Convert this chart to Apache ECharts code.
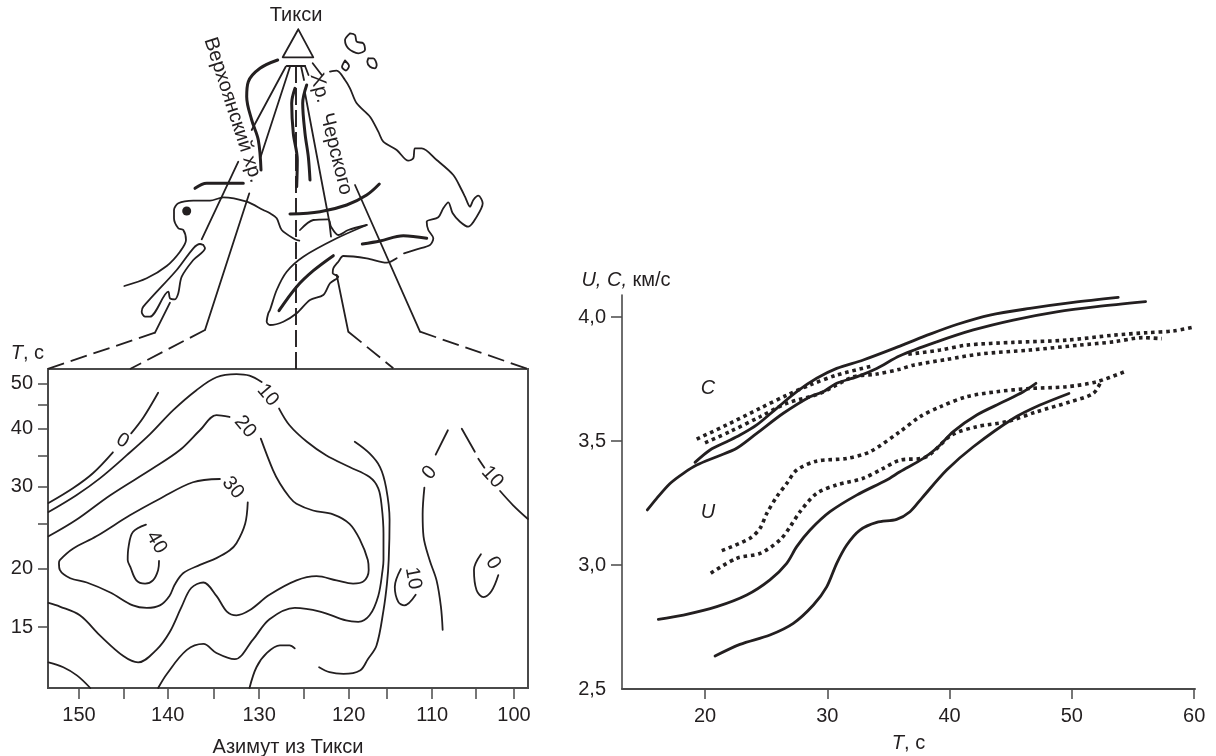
<!DOCTYPE html>
<html><head><meta charset="utf-8">
<style>html,body{margin:0;padding:0;background:#fff}#c{width:1216px;height:756px}</style>
<script src="https://cdn.jsdelivr.net/npm/echarts@6/dist/echarts.min.js"></script>
</head><body><div id="c"></div>
<script>
// ---------- Right panel: T (s), velocity (km/s) ----------
const cSolid1=[[19.18,3.414],[20.41,3.464],[21.77,3.497],[22.86,3.524],[24.23,3.565],[25.86,3.632],[27.5,3.699],[29.13,3.753],[30.77,3.793],[32.94,3.827],[35.94,3.883],[38.4,3.931],[40.58,3.97],[43.3,4.008],[46.57,4.035],[50.11,4.059],[53.79,4.079]];
const cSolid2=[[15.28,3.222],[16.05,3.269],[17.14,3.329],[18.23,3.37],[19.32,3.403],[20.96,3.437],[22.59,3.471],[24.23,3.531],[26.4,3.612],[28.59,3.679],[29.67,3.699],[30.77,3.733],[32.4,3.759],[34.04,3.793],[35.94,3.844],[38.95,3.9],[41.94,3.948],[45.21,3.988],[48.76,4.021],[52.03,4.042],[56.03,4.062]];
const cDot1a=[[19.32,3.508],[21.77,3.565],[24.5,3.632],[26.68,3.685],[28.59,3.726],[30.77,3.766],[33.63,3.802]];
const cDot1b=[[36.62,3.85],[39.22,3.867],[41.4,3.887],[45.21,3.898],[49.57,3.907],[53.39,3.927],[56.12,3.937],[58.29,3.944],[60.07,3.961]];
const cDot2=[[20,3.493],[22.04,3.538],[24.5,3.598],[26.68,3.652],[29.4,3.692],[32.13,3.759],[34.04,3.77],[35.94,3.79],[37.03,3.806],[39.76,3.829],[42.49,3.851],[46.57,3.867],[50.66,3.887],[53.39,3.9],[55.84,3.917],[57.34,3.913]];
const uSolid1=[[16.18,2.781],[18.23,2.798],[20.96,2.832],[23.41,2.879],[25.31,2.94],[26.68,3.007],[27.5,3.074],[28.59,3.141],[30.22,3.215],[32.4,3.282],[34.86,3.343],[35.94,3.376],[37.85,3.43],[39.08,3.477],[40.3,3.538],[42.22,3.605],[44.39,3.658],[46.03,3.699],[47.06,3.733]];
const uSolid2=[[20.82,2.633],[22.86,2.68],[25.31,2.718],[27.22,2.765],[28.86,2.839],[29.95,2.912],[30.77,3.007],[31.59,3.081],[32.67,3.141],[34.04,3.172],[35.67,3.184],[36.76,3.215],[37.72,3.269],[39.76,3.383],[41.94,3.477],[45.21,3.591],[47.39,3.645],[49.76,3.692]];
const uDot1=[[21.37,3.058],[23.68,3.108],[24.5,3.148],[25.05,3.208],[25.86,3.275],[26.68,3.329],[27.5,3.383],[29.13,3.419],[31.59,3.43],[33.49,3.457],[35.94,3.538],[37.58,3.598],[39.22,3.638],[41.4,3.679],[43.85,3.699],[46.57,3.712],[49.57,3.719],[52.03,3.739],[54.42,3.782]];
const uDot2=[[20.47,2.967],[22.59,3.027],[24.5,3.047],[26.13,3.101],[26.95,3.154],[27.77,3.215],[29.13,3.289],[30.77,3.323],[32.94,3.35],[34.58,3.39],[35.94,3.423],[37.99,3.434],[40.17,3.524],[42.22,3.558],[44.67,3.578],[47.12,3.618],[49.84,3.658],[51.75,3.692],[52.44,3.746]];
const velocityLabels=[{name:'C',value:[20.25,3.714]},{name:'U',value:[20.25,3.214]}];
const periodTicks=[20,30,40,50,60];
const velocityTicks=[3,3.5,4];
const velocityLabelsAt=[2.5,3,3.5,4];

// ---------- Left panel: azimuth (deg), T (s) contours ----------
const iso0Left=[[153.5,27.7],[150.7,29.8],[148.4,32.1],[146.1,35.6],null,[144.0,39.1],[142.6,42.3],[140.9,47.8]];
const iso10=[[153.5,26.5],[150.3,28.8],[147.6,31.3],[144.5,35.1],[141.8,39.0],[139.2,43.8],[136.5,48.4],[134.2,51.6],[131.9,52.4],[130.4,52.0],[129.0,50.4],null,[127.0,44.2],[125.8,40.7],[123.8,37.5],[121.6,35.1],[118.9,33.1],[116.6,31.5],[115.6,29.8],[115.2,27.2],[115.0,23.8],[115.0,20.9],[115.1,19.9],[115.6,17.5],[116.6,15.9],[117.9,15.4],[119.3,15.5],[122.3,16.2],[125.2,16.5],[128.1,15.6],[130.0,14.1],[132.1,12.8],[134.2,13.2],[135.7,13.8],[137.6,13.4],[139.9,11.9],[140.9,11.1]];
const iso20=[[153.5,23.5],[150.3,25.5],[146.4,28.8],[141.5,32.9],[138.4,36.0],[136.1,39.7],[134.2,42.8],[132.7,42.4],null,[129.1,38.1],[127.7,32.6],[126.9,30.5],[125.8,28.5],[125.0,27.6],[123.1,26.7],[120.8,26.2],[118.9,25.0],[117.7,23.1],[116.8,20.9],[116.7,19.9],[117.3,18.8],[118.5,18.6],[120.4,18.9],[122.7,19.3],[125.0,18.9],[128.1,17.6],[130.4,16.3],[131.9,15.9],[133.0,16.2],[134.2,17.5],[135.7,18.7],[137.1,18.2],[138.2,16.6],[139.6,14.6],[141.1,13.4],[143.2,12.6],[144.9,13.0],[147.6,14.4],[149.9,15.9],[152.2,16.6],[153.5,16.9]];
const iso30=[[133.8,31.2],[136.9,30.7],[140.7,28.3],[144.1,26.1],[148.0,23.5],[150.7,22.1],[152.2,20.9],[152.3,20.6],[152.2,19.9],[151.0,19.1],[149.1,18.7],[146.4,17.8],[143.8,16.7],[142.2,16.5],[140.7,16.7],[139.6,17.5],[139.0,18.5],[138.0,19.6],[136.1,20.4],[134.2,21.1],[132.7,21.9],[131.9,22.7],[130.9,25.0],[130.6,27.8]];
const iso40=[[142.3,24.9],[143.8,24.0],[144.3,22.3],[144.4,20.9],[144.1,20.2],[143.4,18.9],[142.4,18.6],[141.5,18.9],[140.9,19.9],[140.8,20.8]];
const isoCorner=[[153.5,12.6],[151.8,12.3],[150.2,11.8],[148.7,11.1]];
const isoBottom=[[130.4,11.1],[129.6,12.3],[128.4,13.2],[126.9,13.7],[125.8,13.7],[125.2,13.5]];
const isoOuter=[[118.3,37.5],[116.6,35.4],[115.4,33.1],[114.7,29.9],[114.3,25.5],[114.4,20.9],[114.6,18.6],[115.0,16.3],[115.8,13.7],[116.8,12.8],[117.7,12.1],[119.6,11.9],[121.2,12.0],[122.4,12.3]];
const iso0Right=[[107.6,39.7],[109.0,35.2],null,[110.3,29.9],[110.5,26.2],[110.4,23.5],[109.7,20.9],[108.9,18.9],[108.4,16.6],[108.2,14.8]];
const isoM10=[[106.0,40.0],[104.5,35.7],null,[104.1,34.5],[103.4,33.0],null,[101.6,29.4],[100.1,27.4],[98.4,25.6]];
const iso10Small=[[113.0,20.0],[113.7,18.3],[113.3,17.0],[112.6,16.7],[111.3,17.6]];
const iso0Small=[[103.8,21.5],[104.6,19.9],[104.3,18.0],[103.5,17.4],[102.6,17.9],[101.8,19.4]];
const isoLabels=[
 {name:'0',value:[145.0,37.7],rot:-30},{name:'10',value:[128.3,47.2],rot:-50},{name:'20',value:[130.9,40.4],rot:-50},
 {name:'30',value:[132.3,29.9],rot:-50},{name:'40',value:[141.1,22.8],rot:-60},{name:'0',value:[109.7,32.2],rot:50},
 {name:'10',value:[102.5,31.5],rot:-48},{name:'10',value:[111.6,19.1],rot:-80},{name:'0',value:[102.4,20.6],rot:-60}];
const azimuthMajorAt=[150,139.8,129.3,119,109.4,100];
const azimuthMinorAt=[144.8,134.5,124.2,114.6,104.4];
const azimuthNames=['150','140','130','120','110','100'];
const periodLogLabels=[15,20,30,40,50];
const periodLogTicks=[15,20,25,30,35,40,45,50];

// ---------- Top panel: schematic map, map units ----------
const triangle=[[298.3,29.3],[282.7,57.3],[313.3,57.3],[298.3,29.3]];
const rayCap=[[286.7,66],[305,66]];
const ray1a=[[285.7,66.7],[251.7,130]], ray1b=[[238.3,161.7],[201.7,239.3]], ray1c=[[170,302.7],[155,332.7]], ray1d=[[155,332.7],[47.3,369]];
const ray2a=[[290,66.7],[260.7,156.7]], ray2b=[[249.3,193.3],[205,330]], ray2c=[[205,330],[130,369]];
const rayMid=[[296,66],[296,369]];
const ray4a=[[301,66],[304,80]], ray4b=[[305,93],[323.3,190],[329.3,221.7],[331,236.7]];
const rayStub=[[305,66],[308.5,75]];
const ray5a=[[312.7,63.3],[321.7,75]], ray5b=[[355,185],[420,331.7]], ray5c=[[420,331.7],[528,369]];
const ray6a=[[336.7,275],[348.3,331.7]], ray6b=[[348.3,331.7],[393.3,368.3]];
const thick1=[[277.7,60],[260,68.3],[248.3,81.7],[246.7,96.7],[251.7,120],[258.3,140],[261,170]];
const thick2=[[295,88.3],[291.7,103.3],[293.3,133.3],[297.3,160],[296.7,186.7]];
const thick3=[[306.7,85],[302.7,103.3],[305,133.3],[308.3,156.7],[310,180]];
const thick4=[[195,188.3],[206.7,183.3],[243.3,183.3]];
const thick5=[[290,214],[320,211.7],[346.7,205],[366.7,195],[379.3,184]];
const thick6=[[362.3,244],[380,241],[403.3,235.7],[426.7,238.3]];
const thick7=[[279,310.7],[296.7,286.7],[313.3,270.7],[333.3,255.7]];
const island1=[[350,33.3],[345,40],[348.3,48.3],[358.3,53.3],[365,50],[363.3,43.3],[356.7,41.7],[355,35],[350,33.3]];
const island2=[[345,60.5],[349,66],[346,70.5],[342,67],[345,60.5]];
const island3=[[368.3,58.3],[373.3,58.3],[376.7,65],[375,68.3],[370,66.7],[367.3,61.7],[368.3,58.3]];
const coastA=[[330,71.7],[336.7,70.7],[345,80],[350,88.3],[356.7,103.3],[370,116.7],[378.3,131.7],[383.3,141.7],[396.7,150],[408.3,160.7],[413.3,158.3],[415,148.3],[421.7,148.3],[436.7,160],[453.3,175],[461.7,190],[465,196.7],[470,206.7],[473.3,200],[478.3,195.7],[482.7,203.3],[476.7,216.7],[468.3,226.7],[460,221.7],[452.7,213.3],[448.3,202.3],[443.3,208.3],[438.3,217.3],[426.7,221.7],[428.3,230],[433.3,238.3],[430,245],[416.7,249.3],[404,253.3]];
const coastB=[[396.7,258.3],[386.7,262.7],[366.7,258.3],[343.3,256],[338.3,261.7],[333.3,268.3],[332.7,273.3],[338.3,276.7],[330,283.3],[323.3,295],[310,300],[296.7,313.3],[283.3,321.7],[270,325],[266.7,321.7],[268.3,313.3],[270,310],[276.7,290],[286.7,271.7],[303.3,256.7],[336.7,238.3],[366.7,225]];
const coastC=[[366.7,225],[348.3,230],[338.3,235],[331,226.7],[328.3,219.3],[313.3,220],[300,230]];
const coastWest=[[124.3,286],[146.7,278.3],[166.7,266],[180,251.7],[186,240],[183.3,230],[178.3,228.3],[174,218.3],[174,210],[178.3,203.3],[193.3,200.7],[210,200.7],[223.3,197.3],[246.7,201.7],[263.3,210],[270,213.3],[276.7,218.3],[281.7,230],[295,239.3],[299.3,240.7]];
const lakeWest=[[203.3,245],[200,244],[193.3,248.3],[176.7,270],[143.3,306.7],[141.7,311.7],[145,316.7],[150,316.7],[168.3,291.7],[170,298.3],[175,299.3],[178.3,293.3],[181.7,276.7],[193.3,260],[205,248.3],[203.3,245]];
const cityDot=[[186.7,211]];
const mapLabels=[{name:'Тикси',value:[296,15],rot:0},{name:'Верхоянский хр.',value:[233,110],rot:-72},{name:'Хр.  Черского',value:[331,134],rot:-76}];

const INK='#231f20', AXIS='#4a4a4a', FONT='"Liberation Sans",Arial,sans-serif', FS=20;
const series=[];
function line(data,grid,width,opt){
  series.push(Object.assign({type:'line',data,xAxisIndex:grid,yAxisIndex:grid,showSymbol:false,symbol:'none',silent:true,
    clip:false,smooth:0,connectNulls:false,lineStyle:{color:INK,width,cap:'round',join:'round'}},opt||{}));
}
function labels(data,grid,style){
  series.push({type:'scatter',data:data.map(d=>({name:d.name,value:d.value,
      label:{rotate:d.rot||0}})),xAxisIndex:grid,yAxisIndex:grid,symbolSize:1,
    itemStyle:{color:'transparent',opacity:1},silent:true,clip:false,
    label:Object.assign({show:true,position:'inside',formatter:'{b}',color:INK,opacity:1,fontFamily:FONT,fontSize:FS,align:'center',verticalAlign:'middle'},style||{})});
}
// contours (grid 0)
[iso0Left,iso10,iso20,iso30,iso40,isoCorner,isoBottom,isoOuter,iso0Right,isoM10,iso10Small,iso0Small]
  .forEach(d=>line(d,0,1.8,{smooth:0.35}));
labels(isoLabels,0,{fontSize:20});
// velocity curves (grid 1)
[cSolid1,cSolid2,uSolid1,uSolid2].forEach(d=>line(d,1,2.8,{smooth:0.3}));
[cDot1a,cDot1b,cDot2,uDot1,uDot2].forEach(d=>line(d,1,3.6,{smooth:0.3,lineStyle:{color:INK,width:3.6,type:[3.6,3.8],cap:'butt'}}));
labels(velocityLabels,1,{fontStyle:'italic'});
// map (grid 2)
[triangle,rayCap,ray1a,ray1b,ray1c,ray2a,ray2b,ray4a,ray4b,rayStub,ray5a,ray5b,ray6a].forEach(d=>line(d,2,1.8));
[ray1d,ray2c,ray5c,ray6b].forEach(d=>line(d,2,1.8,{lineStyle:{color:INK,width:1.8,type:[17,7]}}));
line(rayMid,2,1.9,{lineStyle:{color:INK,width:1.9,type:[17,5]}});
[thick1,thick2,thick3,thick4,thick5,thick6,thick7].forEach(d=>line(d,2,3,{smooth:0.35}));
[island1,island2,island3,coastA,coastB,coastC,coastWest,lakeWest].forEach(d=>line(d,2,1.8,{smooth:0.3}));
series.push({type:'scatter',data:cityDot,xAxisIndex:2,yAxisIndex:2,symbolSize:9,itemStyle:{color:INK,opacity:1},silent:true});
labels(mapLabels,2,{});

const baseLabel={color:INK,fontFamily:FONT,fontSize:FS};
const axisLine={show:true,onZero:false,lineStyle:{color:AXIS,width:2}};
const tick=(vals,len)=>({show:true,length:len,customValues:vals,lineStyle:{color:AXIS,width:1.5}});
const rich={i:{fontStyle:'italic',color:INK,fontFamily:FONT,fontSize:FS},n:{color:INK,fontFamily:FONT,fontSize:FS}};

const option={animation:false,backgroundColor:'#fff',
 grid:[
  {left:48,top:369,width:480,height:319,show:true,borderColor:AXIS,borderWidth:2,backgroundColor:'transparent',outerBoundsMode:'none'},
  {left:622,top:295,width:573,height:394,outerBoundsMode:'none'},
  {left:0,top:0,width:1216,height:756,outerBoundsMode:'none'}],
 xAxis:[
  {gridIndex:0,type:'value',inverse:true,min:98.39,max:153.56,axisLine,splitLine:{show:false},
   axisTick:tick([...azimuthMajorAt,...azimuthMinorAt],11),
   axisLabel:Object.assign({},baseLabel,{margin:17,customValues:azimuthMajorAt,
     formatter:v=>azimuthNames[azimuthMajorAt.indexOf(v)]}),
   name:'Азимут из Тикси',nameLocation:'middle',nameGap:49,nameTextStyle:baseLabel},
  {gridIndex:1,type:'value',min:13.21,max:60.07,axisLine,splitLine:{show:false},
   axisTick:tick(periodTicks,10),
   axisLabel:Object.assign({},baseLabel,{margin:17,customValues:periodTicks,formatter:v=>String(v)}),
   name:'{i|T}{n|, с}',nameLocation:'middle',nameGap:44,nameTextStyle:{rich}},
  {gridIndex:2,type:'value',min:0,max:1216,show:false}],
 yAxis:[
  {gridIndex:0,type:'log',logBase:10,min:11.1,max:53.75,axisLine,splitLine:{show:false},minorTick:{show:false},
   axisTick:tick(periodLogTicks,10),
   axisLabel:Object.assign({},baseLabel,{margin:15,customValues:periodLogLabels,formatter:v=>String(Math.round(v))}),
   name:'{i|T}{n|, с}',nameLocation:'end',nameGap:6,nameTextStyle:{rich,align:'right',padding:[0,4,0,0]}},
  {gridIndex:1,type:'value',min:2.5,max:4.089,axisLine:Object.assign({},axisLine,{lineStyle:{color:AXIS,width:1.6}}),splitLine:{show:false},
   axisTick:tick(velocityTicks,11),
   axisLabel:Object.assign({},baseLabel,{margin:16,customValues:velocityLabelsAt,formatter:v=>v.toFixed(1).replace('.',',')}),
   name:'{i|U, C,}{n| км/с}',nameLocation:'end',nameGap:5,nameTextStyle:{rich,padding:[0,0,0,8]}},
  {gridIndex:2,type:'value',inverse:true,min:0,max:756,show:false}],
 series};
const chart=echarts.init(document.getElementById('c'),null,{renderer:'canvas'});
chart.setOption(option);
</script></body></html>
